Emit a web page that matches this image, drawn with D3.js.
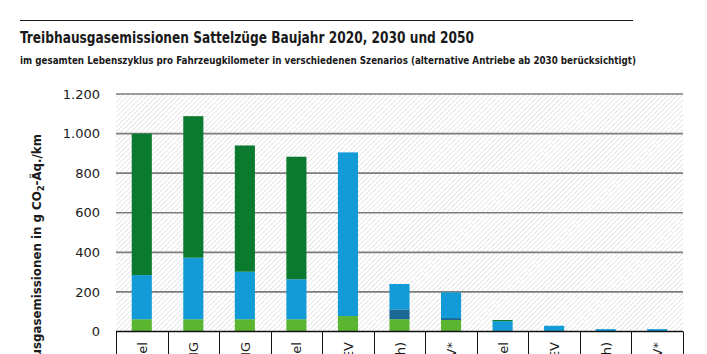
<!DOCTYPE html>
<html>
<head>
<meta charset="utf-8">
<script src="https://cdn.jsdelivr.net/npm/d3@7"></script>
<style>
  html, body { margin: 0; padding: 0; background: #fff; }
  svg { display: block; }
  .tick-label { font-family: "DejaVu Sans", sans-serif; font-size: 13px; fill: #1a1a1a; }
  .cat-label { font-family: "DejaVu Sans", sans-serif; font-size: 13px; fill: #1a1a1a; }
</style>
</head>
<body>
<svg id="chart" width="707" height="354"></svg>
<script>
(function sattelzugChart() {
  const categories = [
    "2020 Diesel", "2020 LNG", "2020 CNG", "2030 Diesel", "2030 BEV",
    "2030 O-HEV (elektrisch)", "2030 FCEV*", "2050 Diesel", "2050 BEV",
    "2050 O-HEV (elektrisch)", "2050 FCEV*",
  ];
  // stacked segments, bottom to top
  const fahrzeug = [62, 62, 62, 62, 78, 62, 58, 0, 0, 0, 0];
  const batterie = [0, 0, 0, 0, 0, 50, 10, 0, 0, 0, 0];
  const energie = [223, 311, 240, 202, 827, 128, 130, 52, 29, 12, 12];
  const direkt = [715, 715, 638, 619, 0, 0, 0, 6, 0, 0, 0];
  const yTicks = [0, 200, 400, 600, 800, 1000, 1200];

  const seriesKeys = ["fahrzeug", "batterie", "energie", "direkt"];
  const colors = {
    fahrzeug: "#5cb531",
    batterie: "#1c6894",
    energie: "#129bd6",
    direkt: "#0b7a2e",
  };

  const table = categories.map((c, i) => ({
    cat: c,
    fahrzeug: fahrzeug[i],
    batterie: batterie[i],
    energie: energie[i],
    direkt: direkt[i],
  }));

  const svg = d3.select("#chart");
  const plot = { left: 116, right: 683, top: 94, bottom: 331.5 };

  const x = d3.scaleBand().domain(categories).range([plot.left, plot.right]).padding(0);
  const y = d3.scaleLinear().domain([0, 1200]).range([plot.bottom, plot.top]);
  const barW = x.step() * 0.39;

  // hatch background
  const defs = svg.append("defs");
  const pat = defs.append("pattern")
    .attr("id", "hatch")
    .attr("patternUnits", "userSpaceOnUse")
    .attr("width", 3.5)
    .attr("height", 3.5)
    .attr("patternTransform", "rotate(45)");
  pat.append("rect").attr("width", 3.5).attr("height", 3.5).attr("fill", "#ffffff");
  pat.append("line")
    .attr("x1", 0).attr("y1", 0).attr("x2", 0).attr("y2", 3.5)
    .attr("stroke", "#d6d6d6").attr("stroke-width", 1.2);

  svg.append("rect")
    .attr("x", plot.left)
    .attr("y", plot.top)
    .attr("width", plot.right - plot.left)
    .attr("height", plot.bottom - plot.top)
    .attr("fill", "url(#hatch)");

  // header
  svg.append("line")
    .attr("x1", 20).attr("x2", 633).attr("y1", 20.5).attr("y2", 20.5)
    .attr("stroke", "#1a1a1a").attr("stroke-width", 1.2);

  svg.append("text")
    .attr("x", 20).attr("y", 43)
    .attr("font-family", "'Liberation Sans Narrow', 'DejaVu Sans Condensed', sans-serif")
    .attr("font-weight", "bold")
    .attr("font-size", 15)
    .attr("fill", "#1a1a1a")
    .attr("textLength", 454)
    .attr("lengthAdjust", "spacingAndGlyphs")
    .text("Treibhausgasemissionen Sattelzüge Baujahr 2020, 2030 und 2050");

  svg.append("text")
    .attr("x", 20).attr("y", 63.5)
    .attr("font-family", "'Liberation Sans Narrow', 'DejaVu Sans Condensed', sans-serif")
    .attr("font-weight", "bold")
    .attr("font-size", 11)
    .attr("fill", "#1a1a1a")
    .attr("textLength", 616)
    .attr("lengthAdjust", "spacingAndGlyphs")
    .text("im gesamten Lebenszyklus pro Fahrzeugkilometer in verschiedenen Szenarios (alternative Antriebe ab 2030 berücksichtigt)");

  // grid lines
  svg.append("g")
    .selectAll("line")
    .data(yTicks.filter((t) => t > 0))
    .join("line")
    .attr("x1", plot.left)
    .attr("x2", plot.right)
    .attr("y1", (d) => y(d))
    .attr("y2", (d) => y(d))
    .attr("stroke", "#7d7d7d")
    .attr("stroke-width", 1.6);

  // y tick labels
  const fmt = (v) => d3.format(",")(v).replace(/,/g, ".");
  svg.append("g")
    .selectAll("text")
    .data(yTicks)
    .join("text")
    .attr("class", "tick-label")
    .attr("x", 100)
    .attr("y", (d) => y(d))
    .attr("dy", "0.36em")
    .attr("text-anchor", "end")
    .text(fmt);

  // y axis title
  const yTitle = svg.append("text")
    .attr("transform", "translate(41,134) rotate(-90)")
    .attr("text-anchor", "end")
    .attr("font-family", "'DejaVu Sans', sans-serif")
    .attr("font-weight", "bold")
    .attr("font-size", 11.8)
    .attr("fill", "#1a1a1a");
  yTitle.append("tspan").text("Treibhausgasemissionen in g CO");
  yTitle.append("tspan").attr("font-size", 8.5).attr("dy", 3).text("2");
  yTitle.append("tspan").attr("dy", -3).text("-Äq./km");

  // stacked bars
  const stack = d3.stack().keys(seriesKeys)(table);
  svg.append("g")
    .selectAll("g")
    .data(stack)
    .join("g")
    .attr("fill", (s) => colors[s.key])
    .selectAll("rect")
    .data((s) => s.filter((d) => d[1] - d[0] > 0))
    .join("rect")
    .attr("x", (d) => x(d.data.cat) + (x.step() - barW) / 2)
    .attr("width", barW)
    .attr("y", (d) => y(d[1]))
    .attr("height", (d) => y(d[0]) - y(d[1]));

  // baseline and category boxes
  svg.append("line")
    .attr("x1", plot.left).attr("x2", plot.right)
    .attr("y1", plot.bottom).attr("y2", plot.bottom)
    .attr("stroke", "#111").attr("stroke-width", 1.3);

  svg.append("g")
    .selectAll("line")
    .data(d3.range(categories.length + 1))
    .join("line")
    .attr("x1", (i) => Math.round(plot.left + i * x.step()) + 0.5)
    .attr("x2", (i) => Math.round(plot.left + i * x.step()) + 0.5)
    .attr("y1", plot.bottom)
    .attr("y2", 354)
    .attr("stroke", "#111")
    .attr("stroke-width", 1);

  svg.append("g")
    .selectAll("text")
    .data(categories)
    .join("text")
    .attr("class", "cat-label")
    .attr("text-anchor", "end")
    .attr("transform", (d) => `translate(${x(d) + x.step() / 2 + 5},342) rotate(-90)`)
    .text((d) => d);
})();
</script>
</body>
</html>
